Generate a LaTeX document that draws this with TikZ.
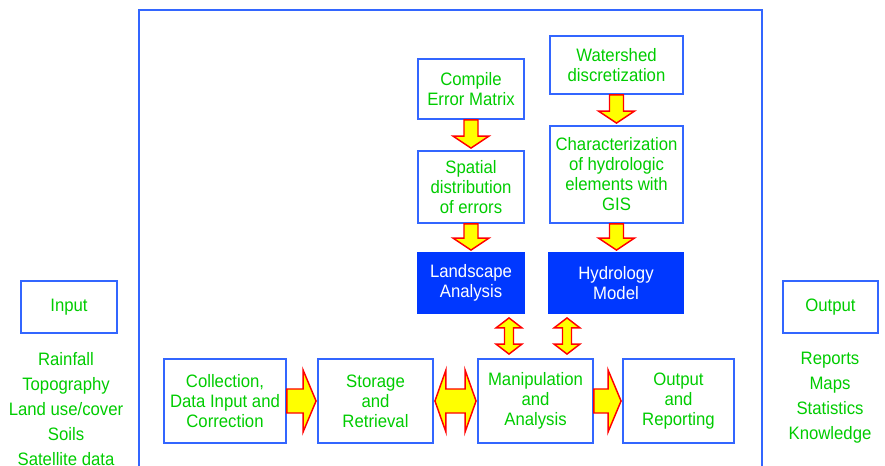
\documentclass[tikz,border=0pt]{standalone}
\usepackage{fontspec}
\setmainfont{Liberation Sans}[FakeStretch=0.93]
\usetikzlibrary{calc}
\definecolor{bordblue}{RGB}{51,102,255}
\definecolor{fillblue}{RGB}{0,56,255}
\definecolor{txtgreen}{RGB}{0,204,0}
\definecolor{arrred}{RGB}{255,0,0}
\definecolor{arryel}{RGB}{255,255,0}
\newcommand\dnarrow[2]{%
  \draw[blockarrow] ($(#1.south)+(-7,0)$) -- ($(#1.south |- #2.north)+(-7,-14)$)
    -- ($(#1.south |- #2.north)+(-18,-14)$) -- ($(#1.south |- #2.north)+(0,-2)$)
    -- ($(#1.south |- #2.north)+(18,-14)$) -- ($(#1.south |- #2.north)+(7,-14)$)
    -- ($(#1.south)+(7,0)$) -- cycle;}
\newcommand\rtarrow[2]{%
  \draw[blockarrow] ($(#1.east)+(0,-12)$) -- ($(#2.west |- #1.east)+(-14,-12)$)
    -- ($(#2.west |- #1.east)+(-14,-31)$) -- ($(#2.west |- #1.east)+(-1,0)$)
    -- ($(#2.west |- #1.east)+(-14,31)$) -- ($(#2.west |- #1.east)+(-14,12)$)
    -- ($(#1.east)+(0,12)$) -- cycle;}
\newcommand\hdblarrow[2]{%
  \draw[blockarrow] ($(#1.east)+(1,0)$) -- ($(#1.east)+(12,-31)$) -- ($(#1.east)+(12,-12)$)
    -- ($(#2.west |- #1.east)+(-12,-12)$) -- ($(#2.west |- #1.east)+(-12,-31)$)
    -- ($(#2.west |- #1.east)+(-1,0)$) -- ($(#2.west |- #1.east)+(-12,31)$)
    -- ($(#2.west |- #1.east)+(-12,12)$) -- ($(#1.east)+(12,12)$)
    -- ($(#1.east)+(12,31)$) -- cycle;}
% #1 top node, #2 bottom node, #3 x coordinate name
\newcommand\vdblarrow[3]{%
  \draw[blockarrow] ($(#3 |- #1.south)+(0,4)$) -- ($(#3 |- #1.south)+(13,14)$) -- ($(#3 |- #1.south)+(4.5,14)$)
    -- ($(#3 |- #2.north)+(4.5,-14)$) -- ($(#3 |- #2.north)+(13,-14)$)
    -- ($(#3 |- #2.north)+(0,-4)$) -- ($(#3 |- #2.north)+(-13,-14)$)
    -- ($(#3 |- #2.north)+(-4.5,-14)$) -- ($(#3 |- #1.south)+(-4.5,14)$)
    -- ($(#3 |- #1.south)+(-13,14)$) -- cycle;}
\begin{document}
\begin{tikzpicture}[x=0.75pt,y=-0.75pt,
  box/.style 2 args={draw=bordblue, line width=1.4pt, text=txtgreen, align=center,
    inner sep=0pt, font=\fontsize{13.5pt}{15pt}\selectfont,
    minimum width=#1*0.75pt, minimum height=#2*0.75pt},
  fbox/.style 2 args={box={#1}{#2}, fill=fillblue, draw=fillblue, text=white},
  list/.style={text=txtgreen, align=center, inner sep=0pt,
    font=\fontsize{13.5pt}{18.75pt}\selectfont},
  blockarrow/.style={draw=arrred, fill=arryel, line width=1.1pt, line join=miter},
  frame/.style={draw=bordblue, line width=1.4pt}]
\useasboundingbox (0,0) rectangle (885,466);
\draw[frame] (139,470) -- (139,10) -- (762,10) -- (762,470);

\node[box={96}{52}] (input) at (69,307) {Input};
\node[list] (inlist) at (66,409) {Rainfall\\Topography\\Land use/cover\\Soils\\Satellite data};
\node[box={95}{52}] (output) at (830.5,307) {Output};
\node[list] (outlist) at (830,398) {Reports\\Maps\\Statistics\\Knowledge};

\node[box={106}{60}] (compile) at (471,89) {Compile\\Error Matrix};
\node[box={133}{58}] (water) at (616.5,65) {Watershed\\discretization};
\node[box={106}{72}] (spatial) at (471,187) {Spatial\\distribution\\of errors};
\node[box={133}{97}] (charac) at (616.5,174.5) {Characterization\\of hydrologic\\elements with\\GIS};
\node[fbox={106}{60}] (land) at (471,283) {Landscape\\Analysis};
\node[fbox={134}{60}] (hydro) at (616,283) {Hydrology\\Model};

\node[box={122}{84}] (collect) at (225,401) {Collection,\\Data Input and\\Correction};
\node[box={115}{84}] (storage) at (375.5,401) {Storage\\and\\Retrieval};
\node[box={115}{84}] (manip) at (535.5,401) {Manipulation\\and\\Analysis};
\node[box={111}{84}] (outrep) at (678.5,401) {Output\\and\\Reporting};

\dnarrow{compile}{spatial}
\dnarrow{spatial}{land}
\dnarrow{water}{charac}
\dnarrow{charac}{hydro}
\rtarrow{collect}{storage}
\rtarrow{manip}{outrep}
\hdblarrow{storage}{manip}
\coordinate (xa) at ($(manip.north)+(-26.5,0)$);
\coordinate (xb) at ($(manip.north)+(31.5,0)$);
\vdblarrow{land}{manip}{xa}
\vdblarrow{hydro}{manip}{xb}
\end{tikzpicture}
\end{document}
